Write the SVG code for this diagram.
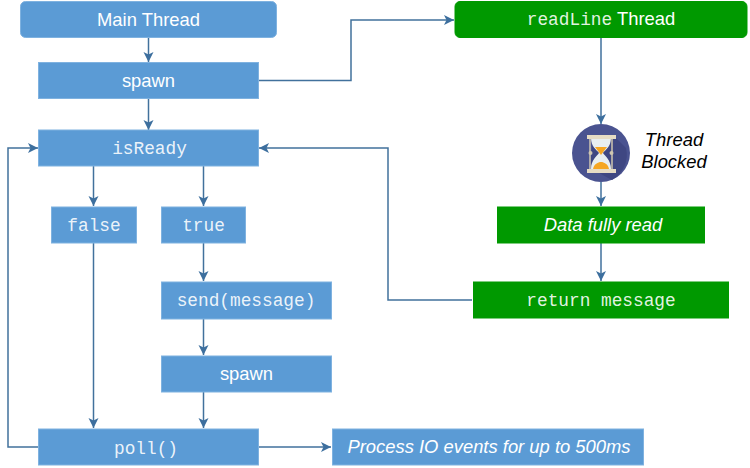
<svg xmlns="http://www.w3.org/2000/svg" width="750" height="468" viewBox="0 0 750 468">
<defs>
<style>
.b{fill:#5b9bd5;stroke:#7fb2e0;stroke-width:1}
.g{fill:#009900;stroke:#009900;stroke-width:1}
text{fill:#fff;text-anchor:middle;font-family:"Liberation Sans",Arial,sans-serif;font-size:18.4px}
.m{font-family:"Liberation Mono","Courier New",monospace;font-size:17.8px;fill-opacity:.9}
.i{font-style:italic}
.k{fill:#000}
.c{fill:none;stroke:#41719c;stroke-width:1.5;marker-end:url(#a)}
</style>
<marker id="a" markerUnits="userSpaceOnUse" markerWidth="12" markerHeight="12" refX="10" refY="5.5" orient="auto">
<path d="M0,0.5L10,5.5L0,10.500L2.500,5.500Z" fill="#3d6f9e"/>
</marker>
</defs>
<g id="connectors">
<path class="c" d="M148.500 38V62"/>
<path class="c" d="M148.500 99V130"/>
<path class="c" d="M259 80.500H351V20H454"/>
<path class="c" d="M93.500 166V206"/>
<path class="c" d="M203.500 166V206"/>
<path class="c" d="M93.500 243V428"/>
<path class="c" d="M203.500 243V281"/>
<path class="c" d="M203.500 319V355"/>
<path class="c" d="M203.500 392V428"/>
<path class="c" d="M38 447H8V148H38"/>
<path class="c" d="M259 447H331"/>
<path class="c" d="M601 38V124"/>
<path class="c" d="M601 182V206"/>
<path class="c" d="M601 243V281"/>
<path class="c" d="M472 300H388V148H259"/>
</g>
<g id="main-thread"><rect class="b" x="20.500" y="1.500" width="256" height="36" rx="5"/><text x="148.500" y="26">Main Thread</text></g>
<g id="spawn-1"><rect class="b" x="38.500" y="62.500" width="220" height="36"/><text x="148.500" y="87">spawn</text></g>
<g id="is-ready"><rect class="b" x="38.500" y="130" width="220" height="36"/><text class="m" x="149.500" y="154">isReady</text></g>
<g id="false"><rect class="b" x="51.500" y="207" width="85" height="36"/><text class="m" x="94" y="231">false</text></g>
<g id="true"><rect class="b" x="161.500" y="207" width="84" height="36"/><text class="m" x="203.500" y="231">true</text></g>
<g id="send"><rect class="b" x="161.500" y="282" width="170" height="37"/><text class="m" x="246" y="306">send(message)</text></g>
<g id="spawn-2"><rect class="b" x="161.500" y="356" width="170" height="36"/><text x="246.500" y="380">spawn</text></g>
<g id="poll"><rect class="b" x="38.500" y="429" width="220" height="36"/><text class="m" x="146" y="454">poll()</text></g>
<g id="process-io"><rect class="b" x="332.500" y="429" width="311" height="36"/><text class="i" x="489" y="453">Process IO events for up to 500ms</text></g>
<g id="readline-thread"><rect class="g" x="455" y="1.500" width="292" height="36" rx="5"/><text x="601" y="25"><tspan class="m">readLine</tspan> Thread</text></g>
<g id="hourglass">
<circle cx="601" cy="153" r="29" fill="#4a5390"/>
<path d="M593 138L616 138L626 148A29 29 0 0 1 612 180L590 168Z" fill="#3f4782"/>
<path d="M591 138H611C611 147 605 150 603 153C605 156 611 160 611 169H591C591 160 597 156 599 153C597 150 591 147 591 138Z" fill="#e8eef0"/>
<path d="M595 147H607L601 155Z" fill="#f5a623"/>
<path d="M593 169C594 164 598 162 601 162C604 162 608 164 609 169Z" fill="#f5a623"/>
<path d="M590 137V170M612 137V170" stroke="#cfc6b0" stroke-width="1.500"/>
<rect x="587" y="135" width="29" height="4" fill="#e6dcc4"/>
<rect x="587" y="169" width="29" height="4" fill="#e6dcc4"/>
<circle cx="590.500" cy="153" r="2" fill="#cfc6b0"/>
<circle cx="611.500" cy="153" r="2" fill="#cfc6b0"/>
</g>
<g id="thread-blocked"><text class="i k" x="674" y="146">Thread</text><text class="i k" x="674" y="168">Blocked</text></g>
<g id="data-read"><rect class="g" x="497.500" y="207" width="207" height="36"/><text class="i" x="603" y="231">Data fully read</text></g>
<g id="return-message"><rect class="g" x="473.500" y="282" width="255" height="36"/><text class="m" x="601" y="306">return message</text></g>
</svg>
